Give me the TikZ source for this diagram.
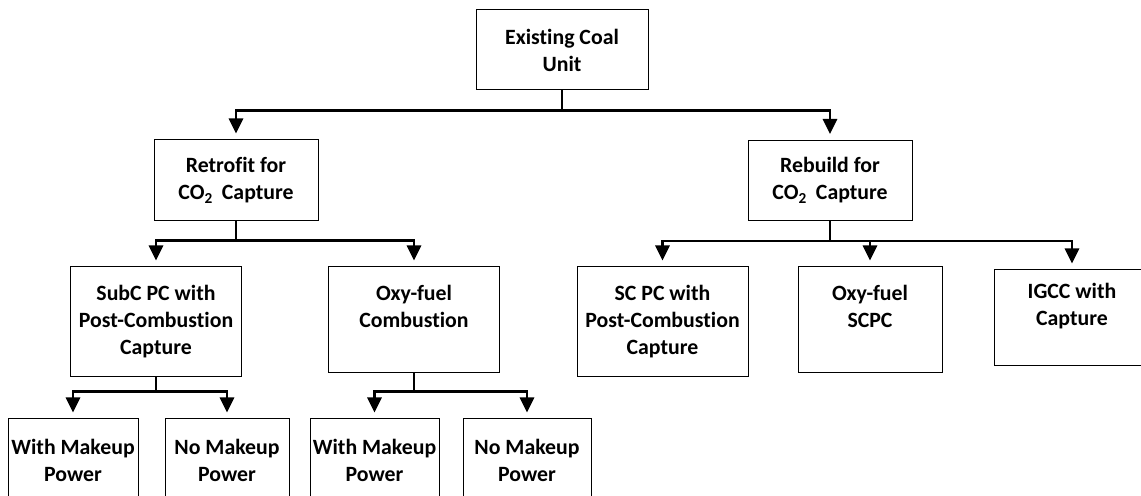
\documentclass[tikz,border=0pt]{standalone}
\usepackage{fontspec}
\setmainfont{Carlito}[Ligatures=NoCommon]
\usetikzlibrary{positioning, arrows.meta}

\begin{document}
\begin{tikzpicture}[
   x=0.5pt, y=-0.5pt,
   box/.style={draw, line width=0.5pt, align=center, inner sep=0pt,
         font=\bfseries\fontsize{10.9}{13.5}\selectfont, minimum height=40pt},
   opt/.style={box, minimum width=85.5pt, minimum height=55pt},
   leaf/.style={box, minimum height=41pt},
   wire/.style={line width=1.4pt},
   arr/.style={wire, -{Triangle[width=7pt, length=7.5pt]}, shorten >=3pt},
  ]
  \useasboundingbox (0,0) rectangle (1141,496);
  \clip (0,0) rectangle (1141,496);

  \node[box, minimum width=86pt] (unit) at (562,50) {Existing Coal\\Unit};
  \node[box, minimum width=82pt, minimum height=40.5pt] (retro) at (236,180.5)
    {Retrofit for\\CO\textsubscript{2}\hspace{0.4em}Capture};
  \node[box, minimum width=82pt] (rebuild) at (830,180.5)
    {Rebuild for\\CO\textsubscript{2}\hspace{0.4em}Capture};

  \node[opt] (subc) at (156,322) {SubC PC with\\Post-Combustion\\Capture};
  \node[opt, minimum height=53pt] (oxyc) at (414,320) {Oxy-fuel\\Combustion\\\mbox{}};
  \node[opt] (scpc) at (662.5,322) {SC PC with\\Post-Combustion\\Capture};
  \node[opt, minimum width=72pt, minimum height=53pt] (oxysc) at (870,320) {Oxy-fuel\\SCPC\\\mbox{}};
  \node[opt, minimum width=78pt, minimum height=48pt] (igcc) at (1072,318) {IGCC with\\Capture\\\mbox{}};

  \node[leaf, minimum width=65pt] (submk) at (73,460) {With Makeup\\Power};
  \node[leaf, minimum width=62pt] (subnm) at (227,460) {No Makeup\\Power};
  \node[leaf, minimum width=64.5pt] (oxymk) at (374.5,460) {With Makeup\\Power};
  \node[leaf, minimum width=64pt] (oxynm) at (527,460) {No Makeup\\Power};

  \draw[wire] (unit.south) -- ++(0,20) coordinate (bus1);
  \draw[arr] (bus1) -| (retro.north);
  \draw[arr] (bus1) -| (rebuild.north);

  \draw[wire] (retro.south) -- ++(0,19) coordinate (bus2);
  \draw[arr] (bus2) -| (subc.north);
  \draw[arr] (bus2) -| (oxyc.north);

  \draw[wire] (rebuild.south) -- ++(0,20) coordinate (bus3);
  \foreach \n in {scpc, oxysc, igcc}
    \draw[arr] (bus3) -| (\n.north);

  \draw[wire] (subc.south) -- ++(0,14) coordinate (bus4);
  \draw[arr] (bus4) -| (submk.north);
  \draw[arr] (bus4) -| (subnm.north);

  \draw[wire] (oxyc.south) -- ++(0,18) coordinate (bus5);
  \draw[arr] (bus5) -| (oxymk.north);
  \draw[arr] (bus5) -| (oxynm.north);
\end{tikzpicture}
\end{document}
